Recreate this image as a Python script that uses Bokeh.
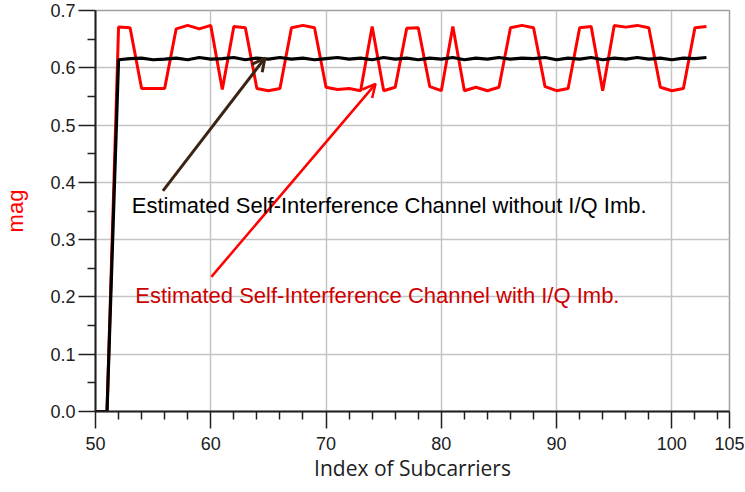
from bokeh.plotting import figure
from bokeh.models import (ColumnDataSource, FixedTicker, PrintfTickFormatter,
                          Arrow, OpenHead, Label, Range1d)
from bokeh.embed import file_html
from bokeh.resources import INLINE

# ---- data -------------------------------------------------------------
subcarrier = list(range(50, 104))

mag_with_iq = [
    0.0, 0.0,
    0.671, 0.670, 0.564, 0.564, 0.564, 0.668, 0.674, 0.668, 0.674, 0.562,
    0.672, 0.670, 0.564, 0.560, 0.564, 0.670, 0.674, 0.670, 0.566, 0.562,
    0.564, 0.560, 0.672, 0.560, 0.566, 0.669, 0.670, 0.567, 0.560, 0.672,
    0.560, 0.566, 0.560, 0.566, 0.670, 0.674, 0.670, 0.567, 0.560, 0.564,
    0.670, 0.672, 0.560, 0.674, 0.671, 0.674, 0.670, 0.566, 0.560, 0.564,
    0.670, 0.672,
]

mag_without_iq = [
    0.0, 0.0,
    0.614, 0.616, 0.617, 0.614, 0.615, 0.617, 0.614, 0.618, 0.615, 0.616,
    0.618, 0.614, 0.617, 0.615, 0.618, 0.615, 0.617, 0.614, 0.616, 0.618,
    0.615, 0.617, 0.614, 0.618, 0.615, 0.617, 0.614, 0.617, 0.615, 0.618,
    0.614, 0.617, 0.615, 0.618, 0.615, 0.617, 0.616, 0.618, 0.614, 0.617,
    0.615, 0.618, 0.614, 0.617, 0.615, 0.618, 0.615, 0.617, 0.614, 0.617,
    0.616, 0.618,
]

x_major_ticks = [50, 60, 70, 80, 90, 100, 105]
x_minor_ticks = [52, 54, 56, 58, 62, 64, 66, 68, 72, 74, 76, 78, 82, 84, 86, 88,
                 92, 94, 96, 98, 102, 104]
y_major_ticks = [0.0, 0.1, 0.2, 0.3, 0.4, 0.5, 0.6, 0.7]
y_minor_ticks = [0.05, 0.15, 0.25, 0.35, 0.45, 0.55, 0.65]

label_without = "Estimated Self-Interference Channel without I/Q Imb."
label_with = "Estimated Self-Interference Channel with I/Q Imb."

# ---- figure -----------------------------------------------------------
src = ColumnDataSource(dict(x=subcarrier, red=mag_with_iq, black=mag_without_iq))

p = figure(width=745, height=492, output_backend="svg", toolbar_location=None,
           x_range=Range1d(50, 105), y_range=Range1d(0, 0.7),
           min_border_left=92, min_border_right=16, min_border_top=10,
           min_border_bottom=81)
p.background_fill_color = "white"
p.border_fill_color = "white"
p.outline_line_color = "#a0a0a0"
p.outline_line_width = 1.5

p.line("x", "red", source=src, line_color="#ff0000", line_width=3)
p.line("x", "black", source=src, line_color="#000000", line_width=3.2)

# axes
p.xaxis.ticker = FixedTicker(ticks=x_major_ticks, minor_ticks=x_minor_ticks)
p.yaxis.ticker = FixedTicker(ticks=y_major_ticks, minor_ticks=y_minor_ticks)
p.yaxis.formatter = PrintfTickFormatter(format="%.1f")

for ax in (p.xaxis, p.yaxis):
    ax.axis_line_color = "#202020"
    ax.axis_line_width = 2
    ax.major_tick_line_color = "#202020"
    ax.minor_tick_line_color = "#202020"
    ax.major_tick_line_width = 1.5
    ax.minor_tick_line_width = 1.5
    ax.major_tick_in = 0
    ax.minor_tick_in = 0
    ax.major_tick_out = 17
    ax.minor_tick_out = 8
    ax.major_label_text_font = "Liberation Sans"
    ax.major_label_text_font_size = "18px"
    ax.major_label_text_color = "#202020"
    ax.axis_label_text_font_style = "normal"

p.xaxis.major_label_standoff = 8
p.xaxis.axis_label = "Index of Subcarriers"
p.xaxis.axis_label_text_font = "Open Sans"
p.xaxis.axis_label_text_font_size = "21px"
p.xaxis.axis_label_text_color = "#202020"
p.xaxis.axis_label_standoff = 1

p.yaxis.major_label_standoff = 3
p.yaxis.axis_label = "mag"
p.yaxis.axis_label_text_font = "Liberation Sans"
p.yaxis.axis_label_text_font_size = "22px"
p.yaxis.axis_label_text_color = "#ff0000"
p.yaxis.axis_label_standoff = 19

# grid
p.xgrid.ticker = FixedTicker(ticks=[60, 70, 80, 90, 100])
p.xgrid.grid_line_color = "#c4c4c4"
p.xgrid.grid_line_width = 1.5
p.ygrid.grid_line_color = "#c4c4c4"
p.ygrid.grid_line_width = 1.5

# annotations
p.add_layout(Arrow(end=OpenHead(size=13, line_color="#3c2415", line_width=3),
                   x_start=55.85, y_start=0.385, x_end=64.7, y_end=0.617,
                   line_color="#3c2415", line_width=3))
p.add_layout(Arrow(end=OpenHead(size=13, line_color="#ff0000", line_width=2.5),
                   x_start=60.05, y_start=0.235, x_end=74.3, y_end=0.572,
                   line_color="#ff0000", line_width=2.5))

p.add_layout(Label(x=53.15, y=0.359, text=label_without, text_font="Liberation Sans",
                   text_font_size="22px", text_color="#000000",
                   text_baseline="alphabetic", text_align="left"))
p.add_layout(Label(x=53.45, y=0.203, text=label_with, text_font="Liberation Sans",
                   text_font_size="22px", text_color="#cc0000",
                   text_baseline="alphabetic", text_align="left"))

open("out.html", "w").write(file_html(p, INLINE))
